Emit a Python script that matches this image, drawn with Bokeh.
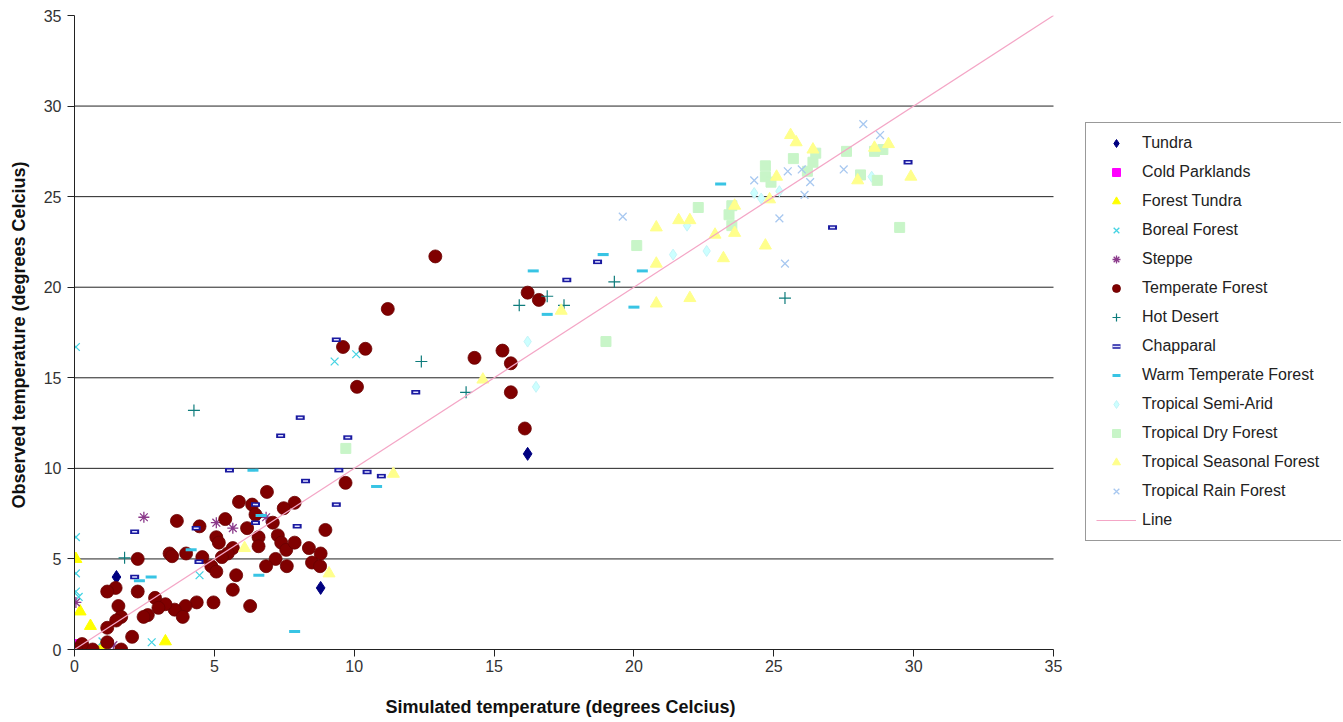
import numpy as np
from bokeh.plotting import figure
from bokeh.models import Legend, LegendItem, FixedTicker, Range1d
from bokeh.embed import file_html
from bokeh.resources import INLINE

# ---------------- data ----------------
tundra_x = [1.5, 8.8, 16.2]
tundra_y = [4.0, 3.4, 10.8]

cold_x = [0.0]
cold_y = [0.3]

ftundra_x = [0.05, 0.2, 0.57, 3.25, 0.3, 1.0]
ftundra_y = [5.0, 2.1, 1.3, 0.45, 0.05, 0.2]

boreal_x = [0.05, 0.05, 0.05, 0.05, 0.15, 2.76, 4.47, 9.3, 10.07, 0.05, 1.0]
boreal_y = [16.7, 6.2, 4.2, 3.2, 2.9, 0.4, 4.1, 15.9, 16.3, 0.3, 0.45]

steppe_x = [0.05, 1.39, 2.48, 5.07, 5.66, 6.85]
steppe_y = [2.6, 0.24, 7.3, 7.0, 6.7, 7.3]

temperate_x = [9.69, 6.88, 5.88, 6.35, 7.87, 7.48, 6.47, 3.66, 4.47, 5.39,
               7.09, 6.17, 8.97, 5.07, 5.16, 6.58, 6.58, 7.27, 7.39, 7.57,
               7.87, 8.38, 8.8, 8.49, 8.78, 7.19, 6.85, 7.59, 5.66, 5.48,
               5.27, 4.89, 5.07, 5.78, 4.57, 3.99, 3.40, 3.49, 2.26, 5.66,
               6.28, 4.97, 4.37, 3.97, 3.58, 3.87, 3.25, 2.88, 3.0, 2.62,
               2.47, 2.26, 1.47, 1.17, 1.57, 1.67, 1.49, 1.17, 2.06, 1.17,
               1.67, 0.65, 0.27, 0.06,
               12.9, 16.2, 16.6, 11.2, 9.6, 10.4, 14.3, 15.3, 15.6, 10.1,
               15.6, 16.1]
temperate_y = [9.2, 8.7, 8.15, 8.0, 8.1, 7.8, 7.45, 7.1, 6.8, 7.2,
               7.0, 6.7, 6.6, 6.2, 5.9, 6.2, 5.7, 6.3, 5.9, 5.5,
               5.9, 5.6, 5.3, 4.8, 4.6, 5.0, 4.6, 4.6, 5.6, 5.3,
               5.1, 4.6, 4.3, 4.1, 5.1, 5.3, 5.3, 5.15, 5.0, 3.3,
               2.4, 2.6, 2.6, 2.4, 2.2, 1.8, 2.5, 2.85, 2.3, 1.9,
               1.8, 3.2, 3.4, 3.2, 2.4, 1.8, 1.6, 1.2, 0.7, 0.4,
               0.0, 0.0, 0.3, 0.0,
               21.7, 19.7, 19.3, 18.8, 16.7, 16.6, 16.1, 16.5, 15.8, 14.5,
               14.2, 12.2]

desert_x = [1.79, 4.27, 12.4, 14.0, 15.9, 16.9, 17.5, 19.3, 25.4]
desert_y = [5.06, 13.2, 15.9, 14.2, 19.0, 19.5, 19.0, 20.3, 19.4]

chap_x = [2.15, 2.15, 4.35, 4.45, 6.47, 6.47, 7.96, 8.26, 9.36, 5.54, 7.37,
          8.07, 9.77, 9.45, 9.36, 10.97, 10.46, 12.2, 17.6, 18.7, 27.1, 29.8]
chap_y = [6.5, 4.0, 6.7, 4.85, 8.0, 7.0, 6.8, 9.3, 8.0, 9.9, 11.8,
          12.8, 11.7, 9.9, 17.1, 9.57, 9.8, 14.2, 20.4, 21.4, 23.3, 26.9]

warm_x = [2.32, 2.74, 4.17, 6.59, 6.67, 7.87, 6.38, 10.8, 16.4, 16.9, 18.9,
          20.3, 20.0, 23.1]
warm_y = [3.8, 4.0, 5.5, 4.1, 7.4, 1.0, 9.9, 9.0, 20.9, 18.5, 21.8,
          20.9, 18.9, 25.7]

semi_x = [16.2, 16.5, 21.4, 21.9, 22.6, 24.3, 24.55, 25.2, 28.5]
semi_y = [17.0, 14.5, 21.8, 23.4, 22.0, 25.2, 24.9, 25.3, 26.1]

dry_x = [9.7, 19.0, 20.1, 22.3, 23.4, 23.5, 23.5, 24.7, 24.7, 24.9, 25.7,
         26.2, 26.4, 26.5, 27.6, 28.1, 28.6, 28.7, 28.9, 29.5]
dry_y = [11.1, 17.0, 22.3, 24.4, 24.0, 24.5, 23.4, 26.7, 26.1, 25.8, 27.1,
         26.4, 26.9, 27.4, 27.5, 26.2, 27.5, 25.9, 27.6, 23.3]

seasonal_x = [6.08, 9.1, 11.4, 14.6, 17.4, 20.8, 20.8, 20.8, 21.6, 22.0, 22.0,
              22.9, 23.2, 23.6, 23.6, 24.7, 24.85, 25.1, 25.6, 25.8, 26.4,
              28.0, 28.6, 29.1, 29.9]
seasonal_y = [5.6, 4.2, 9.7, 14.9, 18.7, 19.1, 21.3, 23.3, 23.7, 23.7, 19.4,
              22.9, 21.6, 24.5, 23.0, 22.3, 24.85, 26.1, 28.4, 28.0, 27.6,
              25.9, 27.7, 27.9, 26.1]

rain_x = [19.6, 24.3, 25.2, 25.4, 25.5, 26.0, 26.1, 26.3, 27.5, 28.2, 28.8]
rain_y = [23.9, 25.9, 23.8, 21.3, 26.4, 26.5, 25.1, 25.8, 26.5, 29.0, 28.4]

line_x = [0, 35]
line_y = [0, 35]

ticks = [0, 5, 10, 15, 20, 25, 30, 35]
grid_ticks = [5, 10, 15, 20, 25, 30]
axis_min, axis_max = 0, 35

# ---------------- figure ----------------
FONT = "Liberation Sans"
LEFT, RIGHT, TOP, BOTTOM = 74, 2, 15, 73
W, H = 1343, 722
frame_w = W - LEFT - RIGHT
px_per_unit = 979 / 35.0          # the 0..35 axis spans 979 px as in the reference
x_end = frame_w / px_per_unit

p = figure(width=W, height=H, output_backend="svg", toolbar_location=None,
           x_range=Range1d(0, x_end), y_range=Range1d(0, 35),
           min_border_left=LEFT, min_border_right=RIGHT, min_border_top=TOP,
           min_border_bottom=BOTTOM)
p.outline_line_color = None
p.background_fill_color = "white"
p.grid.grid_line_color = None

for ax in (p.xaxis[0], p.yaxis[0]):
    ax.ticker = FixedTicker(ticks=ticks)
    ax.minor_tick_line_color = None
    ax.major_tick_in = 0
    ax.major_tick_out = 7
    ax.axis_line_color = "#222222"
    ax.major_tick_line_color = "#222222"
    ax.major_label_text_font = FONT
    ax.major_label_text_font_size = "16px"
    ax.major_label_text_color = "#333333"
    ax.axis_label_text_font = FONT
    ax.axis_label_text_font_size = "18px"
    ax.axis_label_text_font_style = "bold"
    ax.axis_label_text_color = "#111111"

p.xaxis.bounds = (axis_min, axis_max)
# The axis title is centred on the whole frame; trailing no-break spaces move
# its visible part to the middle of the 0..35 span, as in the reference.
NBSP_W = 0.278 * 18                      # width of one no-break space at 18px
shift = (frame_w - 35 * px_per_unit)     # twice the needed left shift
pad = "\u00a0" * int(round(shift / NBSP_W))
p.xaxis.axis_label = "Simulated temperature  (degrees Celcius)" + pad
p.yaxis.axis_label = "Observed temperature  (degrees Celcius)"
p.xaxis.major_label_standoff = 3
p.xaxis.axis_label_standoff = 22
p.yaxis.major_label_standoff = 6
p.yaxis.axis_label_standoff = 12

# horizontal gridlines only across the 0..35 span
p.segment(x0=[axis_min] * len(grid_ticks), x1=[axis_max] * len(grid_ticks),
          y0=grid_ticks, y1=grid_ticks, line_color="#222222", line_width=1)

items = []

r = p.scatter(tundra_x, tundra_y, marker="diamond", size=13,
              fill_color="#000080", line_color="#000080")
items.append(LegendItem(label="Tundra", renderers=[r]))

r = p.scatter(cold_x, cold_y, marker="square", size=9,
              fill_color="#FF00FF", line_color="#FF00FF")
items.append(LegendItem(label="Cold Parklands", renderers=[r]))

r = p.scatter(ftundra_x, ftundra_y, marker="triangle", size=12,
              fill_color="#FFFF00", line_color="#FFFF00")
items.append(LegendItem(label="Forest Tundra", renderers=[r]))

r = p.scatter(boreal_x, boreal_y, marker="x", size=11, line_width=1.3,
              line_color="#45D3E3")
items.append(LegendItem(label="Boreal Forest", renderers=[r]))

r = p.scatter(steppe_x, steppe_y, marker="asterisk", size=11, line_width=1.3,
              line_color="#8B3A8B")
items.append(LegendItem(label="Steppe", renderers=[r]))

r = p.scatter(temperate_x, temperate_y, marker="circle", size=13,
              fill_color="#800000", line_color="#6A0000", line_width=0.8)
items.append(LegendItem(label="Temperate Forest", renderers=[r]))

r = p.scatter(desert_x, desert_y, marker="cross", size=12, line_width=1.2,
              line_color="#0E7C7C")
items.append(LegendItem(label="Hot Desert", renderers=[r]))

r1 = p.scatter(chap_x, chap_y, marker="dash", size=9, line_width=4.5,
               line_color="#1A1AA0", line_cap="butt")
r2 = p.scatter(chap_x, chap_y, marker="dash", size=5, line_width=1.5,
               line_color="#E0E0FF", line_cap="butt")
items.append(LegendItem(label="Chapparal", renderers=[r1, r2]))

r = p.scatter(warm_x, warm_y, marker="dash", size=11, line_width=3,
              line_color="#38C4E4", line_cap="butt")
items.append(LegendItem(label="Warm Temperate Forest", renderers=[r]))

r = p.scatter(semi_x, semi_y, marker="diamond", size=11,
              fill_color="#CCFFFF", line_color="#C4F4F8")
items.append(LegendItem(label="Tropical Semi-Arid", renderers=[r]))

r = p.scatter(dry_x, dry_y, marker="square", size=10,
              fill_color="#C8F5C8", line_color="#C8F5C8")
items.append(LegendItem(label="Tropical Dry Forest", renderers=[r]))

r = p.scatter(seasonal_x, seasonal_y, marker="triangle", size=12,
              fill_color="#FFFF8C", line_color="#FFFF8C")
items.append(LegendItem(label="Tropical Seasonal Forest", renderers=[r]))

r = p.scatter(rain_x, rain_y, marker="x", size=11, line_width=1.3,
              line_color="#A8C8F0")
items.append(LegendItem(label="Tropical Rain Forest", renderers=[r]))

r = p.line(line_x, line_y, line_color="#F4A6C6", line_width=1.2)
items.append(LegendItem(label="Line", renderers=[r]))

legend = Legend(items=items, location=(1011, 108), orientation="vertical",
                label_text_font=FONT, label_text_font_size="16px",
                label_text_color="#222222",
                glyph_width=40, glyph_height=20, label_height=20,
                label_width=189, label_standoff=6, spacing=9, padding=10,
                margin=0, border_line_color="#333333", border_line_width=1,
                background_fill_color="white", background_fill_alpha=1.0)
p.add_layout(legend)

open("out.html", "w").write(file_html(p, INLINE))
